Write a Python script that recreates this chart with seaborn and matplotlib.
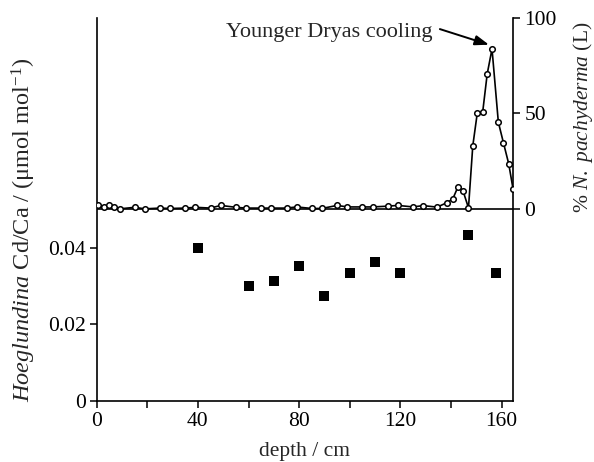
import matplotlib
matplotlib.use("Agg")
import matplotlib.pyplot as plt
import seaborn as sns
import pandas as pd

# N. pachyderma (L) percentage record (top series)
pach_depth = [0.5, 2.8, 4.9, 6.9, 9.1, 15, 19, 25, 29, 35, 39, 45, 49, 55, 59, 65, 69, 75,
              79, 85, 89, 95, 99, 105, 109, 115, 119, 125, 129, 134.5, 138.5, 140.7,
              142.7, 144.7, 146.9, 148.6, 150.4, 152.5, 154.3, 156.2, 158.7, 160.7,
              162.8, 164.5]
pach_pct = [2.0, 0.8, 2.0, 0.8, 0.0, 0.8, 0.0, 0.4, 0.2, 0.4, 0.8, 0.4, 1.8, 0.8, 0.4, 0.4,
            0.4, 0.4, 1.0, 0.2, 0.2, 1.8, 1.0, 1.0, 1.0, 1.4, 1.8, 1.0, 1.7, 0.9, 3.3, 5.2,
            11.4, 9.6, 0.5, 33, 50.4, 50.6, 70.7, 83.8, 45.4, 34.7, 23.6, 10.5]

# Hoeglundina Cd/Ca (bottom series)
cd_depth = [40, 60, 70, 80, 90, 100, 110, 120, 146.7, 157.7]
cd_ca = [0.0399, 0.0301, 0.0312, 0.0351, 0.0273, 0.0333, 0.0363, 0.0334, 0.0434, 0.0335]

x_ticks = [0, 20, 40, 60, 80, 100, 120, 140, 160]
x_ticklabels = ["0", "", "40", "", "80", "", "120", "", "160"]
left_ticks = [0, 0.02, 0.04]
left_ticklabels = ["0", "0.02", "0.04"]
right_ticks = [0, 50, 100]

sns.set_theme(style="ticks")
plt.rcParams["font.family"] = ["Liberation Serif", "DejaVu Serif"]
plt.rcParams["mathtext.fontset"] = "custom"
plt.rcParams["mathtext.rm"] = "Liberation Serif"
plt.rcParams["mathtext.it"] = "Liberation Serif:italic"
plt.rcParams["axes.linewidth"] = 1.2

fs = 15.5

fig = plt.figure(figsize=(5.94, 4.62), dpi=100)
ax = fig.add_axes([0.1628, 0.1320, 0.7013, 0.829])
ax2 = ax.twinx()

cd_df = pd.DataFrame({"depth": cd_depth, "cd": cd_ca})
pach_df = pd.DataFrame({"depth": pach_depth, "pct": pach_pct})

sns.scatterplot(data=cd_df, x="depth", y="cd", ax=ax, marker="s", s=42,
                color="black", edgecolor="black", linewidth=0)

ax2.axhline(0, color="black", lw=1.2, zorder=1)
sns.lineplot(data=pach_df, x="depth", y="pct", ax=ax2, color="black", lw=1.2,
             marker="o", markersize=4.0, markerfacecolor="white",
             markeredgecolor="black", markeredgewidth=1.1, zorder=3)

ax.set_xlim(0, 164.6)
ax.set_ylim(0, 0.0999)
ax2.set_ylim(-100.7, 100)

ax.set_xticks(x_ticks)
ax.set_xticklabels(x_ticklabels, fontsize=fs)
ax.set_yticks(left_ticks)
ax.set_yticklabels(left_ticklabels, fontsize=fs)
ax2.set_yticks(right_ticks)
ax2.set_yticklabels([str(t) for t in right_ticks], fontsize=fs)

for a in (ax, ax2):
    a.tick_params(direction="out", length=5, width=1.1, colors="black", pad=3)
    a.spines["top"].set_visible(False)
    for s in a.spines.values():
        s.set_color("black")
        s.set_linewidth(1.2)
ax.spines["right"].set_visible(False)
ax2.spines["left"].set_visible(False)
ax2.spines["bottom"].set_visible(False)

ax.set_xlabel("depth / cm", fontsize=fs, labelpad=8)
ax.set_ylabel(r"$\mathit{Hoeglundina}$ Cd/Ca / (μmol mol$^{-1}$)", fontsize=17.5)
ax.yaxis.set_label_coords(-0.14, 0.446)
ax2.set_ylabel(r"% $\mathit{N.\ pachyderma}$ (L)", fontsize=15.5)
ax2.yaxis.set_label_coords(1.138, 0.742)

ax2.text(132.5, 92.5, "Younger Dryas cooling", fontsize=16, ha="right", va="center")
ax2.annotate("", xy=(155.0, 86.0), xytext=(135.6, 94.2),
             arrowprops=dict(arrowstyle="-|>,head_length=0.7,head_width=0.25",
                             color="black", lw=1.4, shrinkA=0, shrinkB=0))

fig.savefig("out.png", dpi=100)
